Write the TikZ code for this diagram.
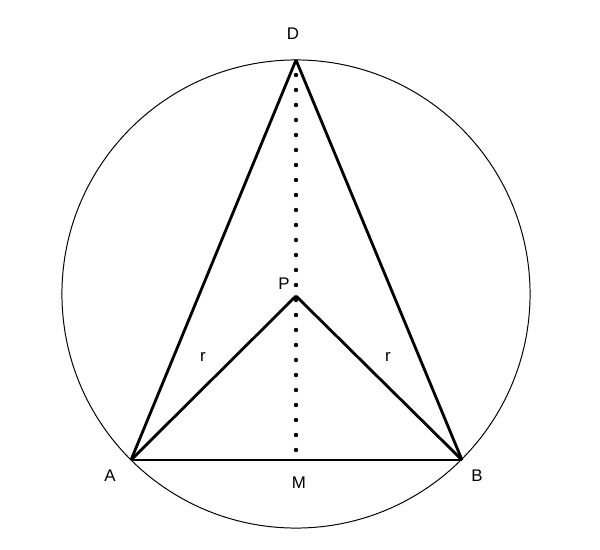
\documentclass[tikz,border=0pt]{standalone}
\usepackage{fontspec}
\setmainfont{Liberation Sans}
\usepackage{tikz}
\usetikzlibrary{calc}

\begin{document}
\begin{tikzpicture}[x=0.025cm,y=-0.025cm]
        \tikzset{edge/.style = {-,line width=2pt,line join=miter}}
        \tikzset{rim/.style = {line width=0.7pt}}
        \tikzset{dot/.style = {fill=black}}
        \tikzset{lbl/.style = {font=\fontsize{12}{14}\selectfont,inner sep=0pt}}
        \useasboundingbox (0,0) rectangle (600,550);
        \coordinate (O) at (296, 294);
        \coordinate (A) at (131, 460);
        \coordinate (B) at (462, 460);
        \coordinate (D) at (296, 60);
        \coordinate (P) at (296, 296);
        \coordinate (M) at (296, 460);

        \draw[rim] (O) circle[radius=5.85cm];

        % dotted line from D down to M
        \foreach \k in {1,...,26}
          \fill[dot] ($(D)!\k*15/400!(M)$) circle[radius=0.055cm];

        \draw[edge] (A) to (B);
        \draw[edge] (A) to (D);
        \draw[edge] (D) to (B);
        \draw[edge] (A) to (P);
        \draw[edge] (P) to (B);

        \node[lbl] (a) at (110, 476) {A};
        \node[lbl] (b) at (477, 476) {B};
        \node[lbl] (d) at (293, 34) {D};
        \node[lbl] (p) at (284, 284) {P};
        \node[lbl] (m) at (299, 483) {M};
        \node[lbl] (r1) at (203, 357) {r};
        \node[lbl] (r2) at (388, 357) {r};
      \end{tikzpicture}
\end{document}
